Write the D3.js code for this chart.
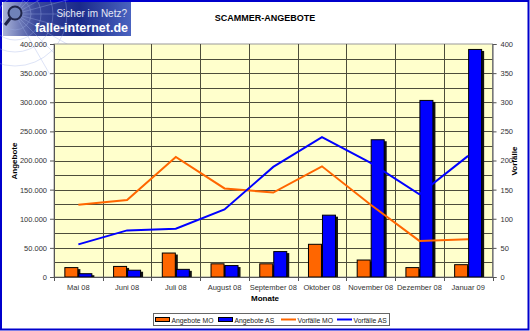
<!DOCTYPE html>
<html>
<head>
<meta charset="utf-8">
<script src="https://cdn.jsdelivr.net/npm/d3@7"></script>
<style>
  html, body { margin: 0; padding: 0; background: #fff; }
  svg { display: block; font-family: "Liberation Sans", Arial, sans-serif; }
</style>
</head>
<body>
<svg id="chart" width="530" height="331"></svg>
<script>
// Monthly scammer offers (left axis) and incidents (right axis)
const months = ["Mai 08", "Juni 08", "Juli 08", "August 08", "September 08",
                "Oktober 08", "November 08", "Dezember 08", "Januar 09"];
const angeboteMO = [17000, 19000, 42000, 23500, 23500, 57000, 30000, 17000, 22000];
const angeboteAS = [6500, 12500, 14000, 20500, 44500, 107000, 236500, 304000, 391500];
const vorfaelleMO = [124, 132, 206, 152, 145, 190, 124, 62, 65];
const vorfaelleAS = [56, 80, 83, 116, 189, 240, 196, 142, 208];
const leftTicks = [0, 50000, 100000, 150000, 200000, 250000, 300000, 350000, 400000];
const rightTicks = [0, 50, 100, 150, 200, 250, 300, 350, 400];
const gridSteps = d3.range(0, 400001, 25000);

const svg = d3.select("#chart");
const W = 530, H = 331;
const plot = { left: 54, right: 492.5, top: 44, bottom: 277 };

const de = d3.formatLocale({ decimal: ",", thousands: ".", grouping: [3], currency: ["", " €"] });
const fmt = de.format(",d");

const ORANGE = "#ff6600", BLUE = "#0000ff";

// Outer frame
svg.append("rect").attr("x", 1).attr("y", 1).attr("width", W - 2.5).attr("height", H - 2.5)
  .attr("fill", "#fff").attr("stroke", "#0000cc").attr("stroke-width", 2);

// Logo banner
const logo = svg.append("g").attr("transform", "translate(3,2)");
const defs = svg.append("defs");
const lg = defs.append("linearGradient").attr("id", "logoGrad").attr("x1", 0).attr("x2", 1).attr("y1", 0).attr("y2", 0);
lg.append("stop").attr("offset", "0").attr("stop-color", "#a9b3d8");
lg.append("stop").attr("offset", "0.25").attr("stop-color", "#3c4a9c");
lg.append("stop").attr("offset", "0.6").attr("stop-color", "#1a2a8a");
lg.append("stop").attr("offset", "1").attr("stop-color", "#4a63c0");
logo.append("rect").attr("width", 128).attr("height", 34).attr("fill", "url(#logoGrad)");
// web threads
const web = logo.append("g").attr("stroke", "#9fb0e6").attr("stroke-width", 0.5).attr("fill", "none").attr("opacity", 0.7);
for (let a = -60; a <= 60; a += 15) {
  const r = a * Math.PI / 180;
  web.append("line").attr("x1", 12).attr("y1", 12).attr("x2", 12 + 70 * Math.cos(r)).attr("y2", 12 + 70 * Math.sin(r));
}
[16, 26, 38, 52].forEach(rr => web.append("circle").attr("cx", 12).attr("cy", 12).attr("r", rr));
// magnifier
logo.append("circle").attr("cx", 12).attr("cy", 11).attr("r", 6.5).attr("fill", "#6f82b8").attr("stroke", "#20264a").attr("stroke-width", 2);
logo.append("line").attr("x1", 7.5).attr("y1", 16).attr("x2", 2).attr("y2", 23).attr("stroke", "#20264a").attr("stroke-width", 3);
logo.append("text").attr("x", 124).attr("y", 15).attr("text-anchor", "end")
  .attr("font-size", 10).attr("fill", "#e4e8f4").text("Sicher im Netz?");
logo.append("text").attr("x", 125).attr("y", 30).attr("text-anchor", "end")
  .attr("font-size", 12.5).attr("font-weight", "bold").attr("fill", "#ffffff").text("falle-internet.de");

// Title
svg.append("text").attr("x", 265).attr("y", 21).attr("text-anchor", "middle")
  .attr("font-size", 9).attr("font-weight", "bold").attr("fill", "#000").text("SCAMMER-ANGEBOTE");

// Scales
const x = d3.scaleBand().domain(months).range([plot.left, plot.right]).paddingInner(0).paddingOuter(0);
const yL = d3.scaleLinear().domain([0, 400000]).range([plot.bottom, plot.top]);
const yR = d3.scaleLinear().domain([0, 400]).range([plot.bottom, plot.top]);

// Plot background
svg.append("rect").attr("x", plot.left).attr("y", plot.top)
  .attr("width", plot.right - plot.left).attr("height", plot.bottom - plot.top)
  .attr("fill", "#ffffcc").attr("stroke", "#999").attr("stroke-width", 1);

// Horizontal gridlines
svg.append("g").selectAll("line").data(gridSteps.slice(1, -1)).join("line")
  .attr("x1", plot.left).attr("x2", plot.right)
  .attr("y1", d => Math.round(yL(d)) + 0.5).attr("y2", d => Math.round(yL(d)) + 0.5)
  .attr("stroke", "#4d4d3a").attr("stroke-width", 1);

// Vertical gridlines at category boundaries
svg.append("g").selectAll("line").data(months.slice(1)).join("line")
  .attr("x1", d => Math.round(x(d)) + 0.5).attr("x2", d => Math.round(x(d)) + 0.5)
  .attr("y1", plot.top).attr("y2", plot.bottom)
  .attr("stroke", "#4d4d3a").attr("stroke-width", 1);

// Bars
const bw = 14;
const barData = [];
months.forEach((m, i) => {
  const c = x(m) + x.bandwidth() / 2;
  barData.push({ x0: c - bw, v: angeboteMO[i], color: ORANGE });
  barData.push({ x0: c, v: angeboteAS[i], color: BLUE });
});
const bars = svg.append("g");
bars.selectAll("rect.shadow").data(barData).join("rect").attr("class", "shadow")
  .attr("x", d => d.x0 + 2).attr("y", d => yL(d.v) + 2)
  .attr("width", bw).attr("height", d => yL(0) - yL(d.v) - 2)
  .attr("fill", "#111");
bars.selectAll("rect.bar").data(barData).join("rect").attr("class", "bar")
  .attr("x", d => d.x0 + 0.5).attr("y", d => yL(d.v) + 0.5)
  .attr("width", bw - 1).attr("height", d => yL(0) - yL(d.v) - 0.5)
  .attr("fill", d => d.color).attr("stroke", "#000").attr("stroke-width", 1);

// Lines (right axis)
const line = d3.line().x((d, i) => x(months[i]) + x.bandwidth() / 2).y(d => yR(d));
svg.append("path").datum(vorfaelleMO).attr("d", line)
  .attr("fill", "none").attr("stroke", ORANGE).attr("stroke-width", 2);
svg.append("path").datum(vorfaelleAS).attr("d", line)
  .attr("fill", "none").attr("stroke", BLUE).attr("stroke-width", 2);

// Axes
const axisColor = "#555";
const gL = svg.append("g").attr("transform", `translate(${plot.left},0)`)
  .call(d3.axisLeft(yL).tickValues(leftTicks).tickFormat(fmt).tickSize(4).tickPadding(3));
const gR = svg.append("g").attr("transform", `translate(${plot.right},0)`)
  .call(d3.axisRight(yR).tickValues(rightTicks).tickSize(4).tickPadding(4));
const gX = svg.append("g").attr("transform", `translate(0,${plot.bottom})`)
  .call(d3.axisBottom(x).tickSize(0).tickPadding(8));
// category boundary ticks
svg.append("g").selectAll("line").data(months.concat(["end"])).join("line")
  .attr("x1", (d, i) => Math.round(plot.left + i * x.bandwidth()) + 0.5)
  .attr("x2", (d, i) => Math.round(plot.left + i * x.bandwidth()) + 0.5)
  .attr("y1", plot.bottom).attr("y2", plot.bottom + 4)
  .attr("stroke", axisColor);

[gL, gR, gX].forEach(g => {
  g.select(".domain").attr("stroke", axisColor);
  g.selectAll(".tick line").attr("stroke", axisColor);
  g.selectAll(".tick text").attr("font-family", "Liberation Sans, Arial, sans-serif")
    .attr("font-size", 7.5).attr("fill", "#333");
});

// Axis titles
svg.append("text").attr("transform", "translate(17,161) rotate(-90)").attr("text-anchor", "middle")
  .attr("font-size", 8).attr("font-weight", "bold").text("Angebote");
svg.append("text").attr("transform", "translate(517,161) rotate(-90)").attr("text-anchor", "middle")
  .attr("font-size", 8).attr("font-weight", "bold").text("Vorfälle");
svg.append("text").attr("x", 265).attr("y", 301).attr("text-anchor", "middle")
  .attr("font-size", 8).attr("font-weight", "bold").text("Monate");

// Legend
const legend = svg.append("g");
legend.append("rect").attr("x", 153.5).attr("y", 313.5).attr("width", 236).attr("height", 12)
  .attr("fill", "#fff").attr("stroke", "#666");
const items = [
  { label: "Angebote MO", color: ORANGE, type: "bar", x: 155 },
  { label: "Angebote AS", color: BLUE, type: "bar", x: 218 },
  { label: "Vorfälle MO", color: ORANGE, type: "line", x: 281 },
  { label: "Vorfälle AS", color: BLUE, type: "line", x: 337 }
];
items.forEach(it => {
  if (it.type === "bar") {
    legend.append("rect").attr("x", it.x + 0.5).attr("y", 317.5).attr("width", 14).attr("height", 4)
      .attr("fill", it.color).attr("stroke", "#000").attr("stroke-width", 1);
  } else {
    legend.append("line").attr("x1", it.x).attr("x2", it.x + 15).attr("y1", 319.5).attr("y2", 319.5)
      .attr("stroke", it.color).attr("stroke-width", 2);
  }
  legend.append("text").attr("x", it.x + 16.5).attr("y", 322.5).attr("font-size", 6.8).attr("fill", "#222").text(it.label);
});
</script>
</body>
</html>
